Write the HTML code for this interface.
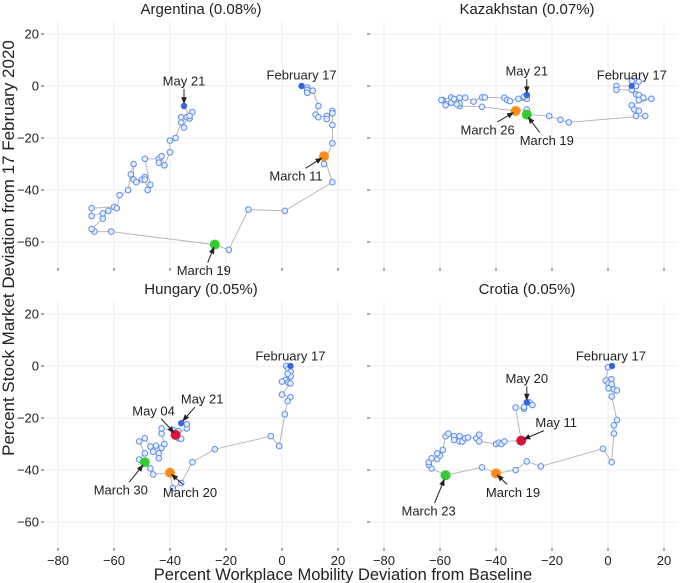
<!DOCTYPE html>
<html><head><meta charset="utf-8"><style>
body{margin:0;background:#fff}
svg{display:block;font-family:"Liberation Sans","DejaVu Sans",sans-serif}
</style></head><body>
<svg id="c" width="685" height="583" viewBox="0 0 685 583">
<defs><marker id="ah" viewBox="0 0 10 10" refX="9" refY="5" markerWidth="7" markerHeight="7" orient="auto"><path d="M0,1 L10,5 L0,9 z" fill="#222"/></marker></defs>
</svg>
<script>
const xTicks=[-80,-60,-40,-20,0,20];
const yTicks=[20,0,-20,-40,-60];
const panelNames=["Argentina (0.08%)","Kazakhstan (0.07%)","Hungary (0.05%)","Crotia (0.05%)"];
const argX=[7,9,9,9,11,13,12,13,16,16,18,18,18,18,15,15,18,1,-12,-19,-24,-61,-67,-68,-64,-64,-62,-68,-68,-60,-59,-58,-55,-54,-53,-53,-52,-50,-49,-49,-48,-47,-49,-44,-44,-43,-42,-40,-40,-38,-36,-36,-35,-34,-33,-32,-33,-35];
const argY=[0,-0.6,-1.5,-2.6,-1.8,-7.7,-11,-12,-11.5,-12.7,-9.6,-10.5,-15,-22,-30,-27,-37,-48,-47.5,-63,-61,-56,-56,-55,-51,-49,-48,-50,-47,-46.5,-47,-42,-40,-34,-30,-36,-37,-36,-35,-36,-40,-38,-28,-28,-29.5,-27,-30.5,-25.5,-21,-20,-14,-12,-16,-12,-12.5,-10,-11.5,-7.7];
const kazX=[8.5,8.5,11,10,3,3,8.5,10,11,12.6,11,15.5,8.5,9.4,11,10,13.3,-14,-17,-21,-29,-29,-33,-45,-53,-53,-58,-59,-56,-54,-59.5,-56,-55,-53,-51,-48,-45,-44,-37,-36,-35,-32,-30,-29,-30,-29];
const kazY=[0,2,1.7,0,0,-1.5,-1.5,-3.2,-3.5,-4.5,-5.4,-4.9,-7.4,-9,-9.6,-11.5,-11.5,-14,-13,-11.5,-11,-9,-9.6,-8,-7.7,-6.7,-7.4,-5.4,-6.4,-7,-5.4,-4.4,-5,-4.5,-4.5,-6,-4.4,-4.4,-4.5,-5.4,-5.8,-4.9,-4.5,-4.9,-4.1,-3.5];
const hunX=[3,1.5,2.3,3.1,3.1,2,1.2,0,2.3,3,0,3,2,1,-1,-4,-24,-32,-36,-39,-40,-46,-47,-49,-51,-49,-51,-49,-47,-46,-45,-44,-44,-43,-42,-43,-43,-39,-38,-37,-37,-36,-38,-34,-34,-36];
const hunY=[0,0,-1,-2.2,-4,-3,-5.4,-6,-6.4,-6.7,-11,-12,-13.5,-18.6,-30.8,-27,-32,-37,-45,-47,-41,-41.7,-39.4,-37,-36,-33.6,-29,-27.8,-31,-33,-30.6,-33.6,-35.5,-31.5,-30,-26,-24,-24.6,-26,-27.8,-25,-28,-26.5,-24,-22.4,-22];
const croX=[1.4,0,-0.8,1.2,0.2,1.3,0.2,2.1,3.2,1.3,3.2,2.1,2.1,1.3,-1.8,-24,-29,-33,-40,-45,-58,-63,-64,-64,-63,-61,-60,-61,-59,-58,-57,-55,-55,-53,-53,-52,-51,-50,-47,-46,-46,-40,-39,-38,-37,-31,-33,-30,-30,-28,-27,-29];
const croY=[0,-0.5,-5.6,-5.1,-6.7,-7,-8.6,-9,-9.4,-11.7,-20.8,-22.8,-26,-37,-31.8,-38.6,-36.7,-40,-41.3,-39,-42,-39.4,-38,-37,-35.5,-35.8,-34.4,-33.6,-32.3,-27,-26,-27,-28.5,-27,-29,-29,-27.8,-27.5,-27.8,-26.4,-29,-30,-29.5,-30,-29,-28.7,-16,-16.4,-15.8,-14,-15,-14];
const argHi=[[15,"#ff8c1a"],[20,"#33cc33"]];
const kazHi=[[20,"#33cc33"],[22,"#ff8c1a"]];
const hunHi=[[20,"#ff8c1a"],[23,"#33cc33"],[42,"#dc143c"]];
const croHi=[[18,"#ff8c1a"],[20,"#33cc33"],[45,"#dc143c"]];
const argAnn=[["February 17",0,0,-11,false],["May 21",-1,0,-25,true],["March 11",15,-28,20,true],["March 19",20,-11,26,true]];
const kazAnn=[["February 17",0,0,-11,false],["May 21",-1,0,-24,true],["March 26",22,-28,19,true],["March 19",20,20,26,true]];
const hunAnn=[["February 17",0,0,-10,false],["May 21",-1,21,-24,true],["May 04",42,-22,-24,true],["March 30",23,-24,28,true],["March 20",20,20,20,true]];
const croAnn=[["February 17",0,-1,-10,false],["May 20",-1,0,-24,true],["May 11",45,35,-18,true],["March 19",18,17,19,true],["March 23",20,-17,36,true]];

const NS="http://www.w3.org/2000/svg";
const svg=document.getElementById('c');
function mk(t,a,p){const e=document.createElementNS(NS,t);for(const k in a)e.setAttribute(k,a[k]);(p||svg).appendChild(e);return e;}
const panels=[
 {x0:282,y0:86,xl:true,yl:false,X:argX,Y:argY,H:argHi,A:argAnn},
 {x0:608,y0:86,xl:false,yl:false,X:kazX,Y:kazY,H:kazHi,A:kazAnn},
 {x0:282,y0:366,xl:true,yl:true,X:hunX,Y:hunY,H:hunHi,A:hunAnn},
 {x0:608,y0:366,xl:false,yl:true,X:croX,Y:croY,H:croHi,A:croAnn}];
const sx=2.8, sy=2.6;
panels.forEach((p,pi)=>{
 const g=mk('g',{});
 
 
 const fx=v=>p.x0+v*sx, fy=v=>p.y0-v*sy;
 const top=fy(25), bot=fy(-70), left=fx(-85), right=fx(25);
 xTicks.forEach(t=>{
  const gl=mk('line',{x1:fx(t),x2:fx(t),y1:top,y2:bot,stroke:'#ececec','stroke-width':1},g);
  
  
  mk('line',{x1:fx(t),x2:fx(t),y1:bot,y2:bot+3,stroke:'#555','stroke-width':1},g);
  if(p.yl){const tx=mk('text',{x:fx(t),y:bot+17,'text-anchor':'middle','font-size':13,fill:'#222'},g);tx.textContent=String(t).replace('-','\u2212');
   
   }
 });
 yTicks.forEach(t=>{
  const gl=mk('line',{x1:left,x2:right,y1:fy(t),y2:fy(t),stroke:'#ececec','stroke-width':1},g);
  
  
  mk('line',{x1:left-3,x2:left,y1:fy(t),y2:fy(t),stroke:'#555','stroke-width':1},g);
  if(p.xl){const tx=mk('text',{x:left-5,y:fy(t)+4.5,'text-anchor':'end','font-size':13,fill:'#222'},g);tx.textContent=String(t).replace('-','\u2212');
   
   }
 });
 const tt=mk('text',{x:(left+right)/2+3,y:fy(25)-7,'text-anchor':'middle','font-size':15,fill:'#222'},g);
 tt.textContent=panelNames[pi];
 
 
 const pts=p.X.map((v,i)=>fx(v).toFixed(1)+','+fy(p.Y[i]).toFixed(1)).join(' ');
 const pl=mk('polyline',{points:pts,fill:'none',stroke:'#b8b8b8','stroke-width':1},g);
 
 
 p.X.forEach((v,i)=>{
  const c=mk('circle',{cx:fx(v),cy:fy(p.Y[i]),r:2.8,fill:'#e8effc',stroke:'#5b8def','stroke-width':1},g);
  
  
 });
 const n=p.X.length-1;
 [0,n].forEach(i=>{
  const c=mk('circle',{cx:fx(p.X[i]),cy:fy(p.Y[i]),r:3,fill:'#3b64dc'},g);
  
  
 });
 p.H.forEach(h=>{
  const c=mk('circle',{cx:fx(p.X[h[0]]),cy:fy(p.Y[h[0]]),r:5,fill:h[1]},g);
  
  
 });
 p.A.forEach(a=>{
  const i=a[1]<0?n:a[1];
  const px=fx(p.X[i]), py=fy(p.Y[i]);
  const tx=px+a[2], ty=py+a[3];
  const t=mk('text',{x:tx,y:ty+4.5,'text-anchor':'middle','font-size':13,fill:'#222'},g);
  t.textContent=a[0];
  
  
  if(a[4]){
   const sxp=tx+(px-tx)*0.35, syp=ty+(a[3]<0?8:-8);
   const ar=mk('line',{x1:sxp,y1:syp,x2:px-(px-sxp)*0.12,y2:py-(py-syp)*0.15,stroke:'#222','stroke-width':1,'marker-end':'url(#ah)'},g);
   
   
  }
 });
});
const yl=mk('text',{x:0,y:0,transform:'translate(14,248) rotate(-90)','text-anchor':'middle','font-size':17,fill:'#222'});
yl.textContent='Percent Stock Market Deviation from 17 February 2020';


const xl=mk('text',{x:343,y:580,'text-anchor':'middle','font-size':16.5,fill:'#222'});
xl.textContent='Percent Workplace Mobility Deviation from Baseline';


</script>
</body></html>
